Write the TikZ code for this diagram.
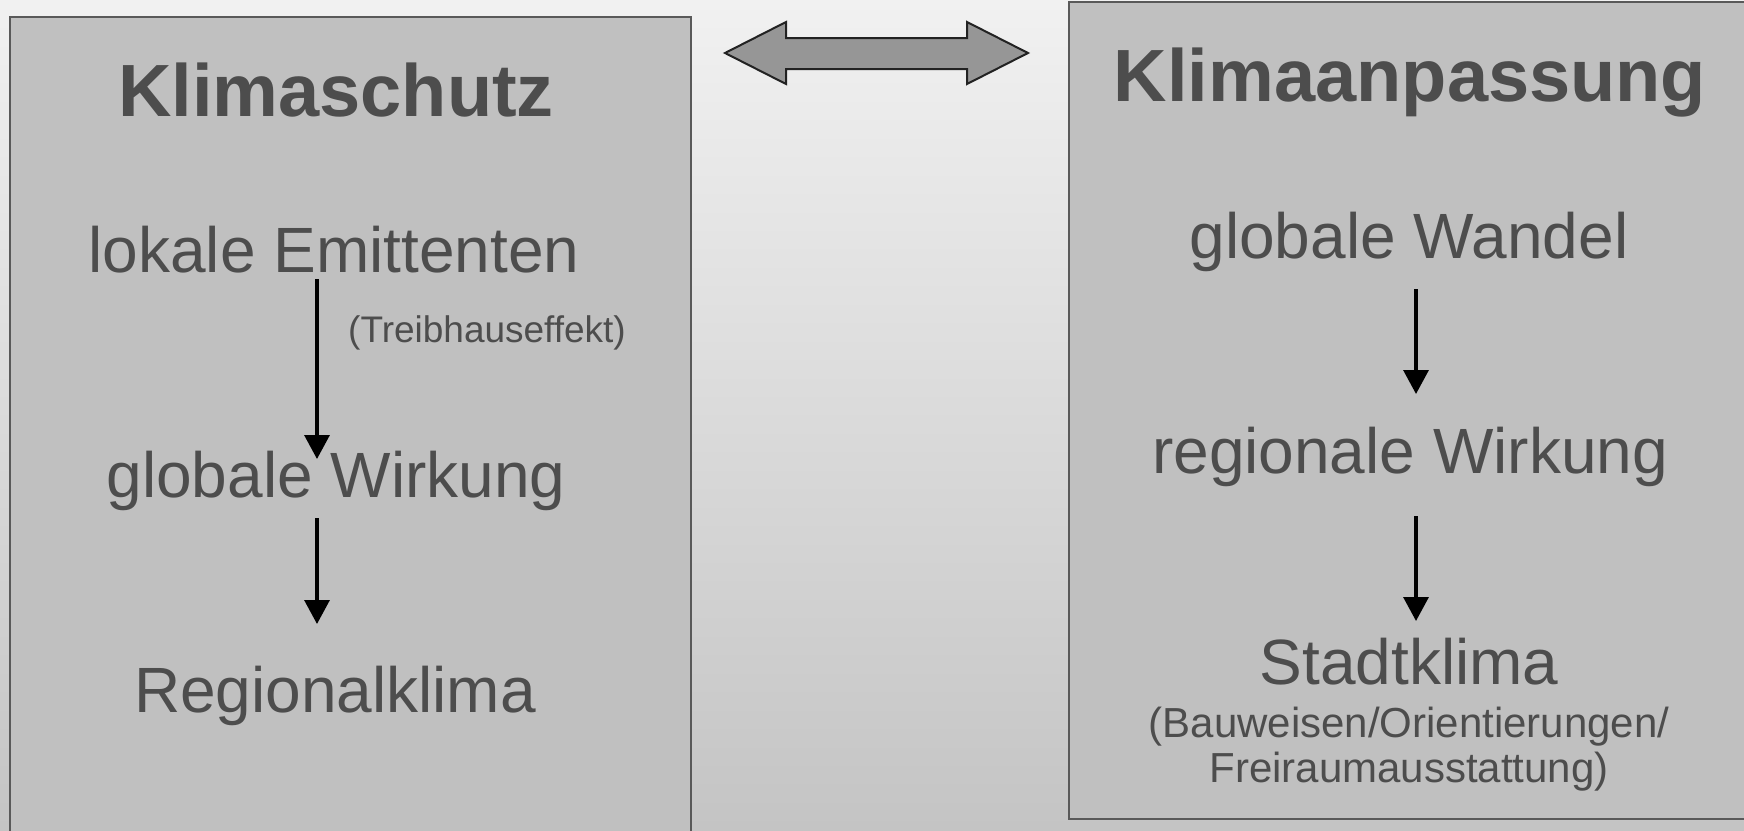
\documentclass[tikz,border=0pt]{standalone}
\usepackage{fontspec}
\setmainfont{Liberation Sans}
\usetikzlibrary{arrows.meta}
\definecolor{bgtop}{HTML}{F1F1F1}
\definecolor{bgbot}{HTML}{C4C4C4}
\definecolor{boxfill}{HTML}{C0C0C0}
\definecolor{boxline}{HTML}{595959}
\definecolor{txt}{HTML}{4D4D4D}
\definecolor{dafill}{HTML}{969696}
\definecolor{daline}{HTML}{222222}
\tikzset{
  panel/.style={fill=boxfill, draw=boxline, line width=0.8pt},
  title/.style={anchor=base, inner sep=0pt, text=txt, font=\fontsize{37}{44}\selectfont\bfseries},
  item/.style={anchor=base, inner sep=0pt, text=txt, font=\fontsize{32}{38}\selectfont},
  note/.style={anchor=base, inner sep=0pt, text=txt, font=\fontsize{18.5}{22}\selectfont},
  sub/.style={anchor=base, inner sep=0pt, text=txt, font=\fontsize{21}{25}\selectfont},
  flow/.style={draw=black, line width=1.65pt, -{Triangle[width=12.5pt,length=12pt]}},
  dblarrow/.style={fill=dafill, draw=daline, line width=1pt, line join=miter}
}
\begin{document}
\begin{tikzpicture}[x=0.5pt,y=-0.5pt]
\useasboundingbox (0,0) rectangle (1744,830);
\clip (0,0) rectangle (1744,830);
\shade[top color=bgtop, bottom color=bgbot] (0,0) rectangle (1744,830);
% panels
\draw[panel] (10,17) rectangle (691,845);
\draw[panel] (1069,2) rectangle (1755,819);
% double arrow
\draw[dblarrow] (725,53) -- (786,22) -- (786,38) -- (967,38) -- (967,22) -- (1028,53)
  -- (967,84) -- (967,69) -- (786,69) -- (786,84) -- cycle;
% left column
\node[title] (klimaschutz) at (336,116) {Klimaschutz};
\node[item] (emittenten) at (334,272) {lokale Emittenten};
\node[note] (treibhaus) at (487,342) {(Treibhauseffekt)};
\node[item] (globwirk) at (336,497) {globale Wirkung};
\node[item] (regional) at (335,712) {Regionalklima};
\coordinate (l1s) at (317,279);
\coordinate (l1e) at (317,459);
\coordinate (l2s) at (317,518);
\coordinate (l2e) at (317,624);
\draw[flow] (l1s) -- (l1e);
\draw[flow] (l2s) -- (l2e);
% right column
\node[title] (anpassung) at (1410,101) {Klimaanpassung};
\node[item] (wandel) at (1409,258) {globale Wandel};
\node[item] (regwirk) at (1410,473) {regionale Wirkung};
\node[item] (stadt) at (1409,684) {Stadtklima};
\node[sub] (bauweisen) at (1409,737) {(Bauweisen/Orientierungen/};
\node[sub] (freiraum) at (1409,782) {Freiraumausstattung)};
\coordinate (r1s) at (1416,289);
\coordinate (r1e) at (1416,394);
\coordinate (r2s) at (1416,516);
\coordinate (r2e) at (1416,621);
\draw[flow] (r1s) -- (r1e);
\draw[flow] (r2s) -- (r2e);
\end{tikzpicture}
\end{document}
